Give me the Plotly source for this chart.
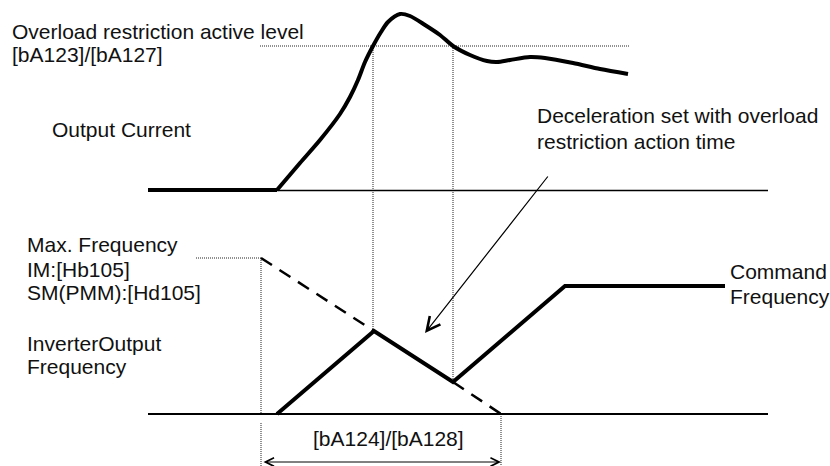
import plotly.graph_objects as go

# ---- diagram data (drawing units = reference pixel grid) ----
axis_x = [148, 768]
current_base = 190.5
freq_base = 414

# output current before acceleration starts (thick) and its waveform
current_idle_x = [148, 277]
current_idle_y = [190, 190]
current_x = [277, 300, 320, 340, 350, 358, 365, 373, 381, 388, 400, 410, 425, 440,
             453, 470, 487, 497, 510, 530, 545, 573, 600, 628]
current_y = [190, 163, 140, 114, 97, 80, 62, 46, 32, 22, 14, 16, 25, 35,
             46, 55, 61, 62, 60, 57, 58, 63, 69, 74]

# overload restriction active level
level_x = [260, 630]
level_y = [46, 46]

# inverter output frequency
freq_x = [277, 374, 453, 565, 725]
freq_y = [414, 331, 382, 286, 286]

# deceleration ramp set by bA124/bA128 (dashed)
decel_x = [261, 374, None, 453, 501]
decel_y = [258, 331, None, 382, 414]

# dotted guide lines
guide_x = [373, 373, None, 453, 453, None, 261, 261, None, 261, 261, None, 501, 501, None, 196, 261]
guide_y = [46, 331, None, 46, 382, None, 258, 414, None, 423, 467, None, 414, 467, None, 258, 258]

# texts: (label, x, y, anchor)
labels = [
    ("Overload restriction active level", 10, 31, "left"),
    ("[bA123]/[bA127]", 10, 54, "left"),
    ("Output Current", 50, 129, "left"),
    ("Deceleration set with overload", 535, 115, "left"),
    ("restriction action time", 535, 141, "left"),
    ("Max. Frequency", 25, 244, "left"),
    ("IM:[Hb105]", 25, 269, "left"),
    ("SM(PMM):[Hd105]", 25, 292, "left"),
    ("InverterOutput", 25, 343, "left"),
    ("Frequency", 25, 366, "left"),
    ("Command", 728, 271, "left"),
    ("Frequency", 728, 296, "left"),
    ("[bA124]/[bA128]", 388, 438, "center"),
]

# arrows: (head_x, head_y, tail_x, tail_y)
pointer_arrow = (425, 333, 549, 175)
span_arrow = (501, 462, 262, 462)

# ---- figure ----
fig = go.Figure()
black = "#000000"

fig.add_trace(go.Scatter(x=level_x, y=level_y, mode="lines",
                         line=dict(color="#222222", width=1, dash="1px,1px")))
fig.add_trace(go.Scatter(x=guide_x, y=guide_y, mode="lines",
                         line=dict(color="#222222", width=1, dash="1px,1px")))
fig.add_trace(go.Scatter(x=axis_x, y=[current_base, current_base], mode="lines",
                         line=dict(color=black, width=1.3)))
fig.add_trace(go.Scatter(x=axis_x, y=[freq_base, freq_base], mode="lines",
                         line=dict(color=black, width=2)))
fig.add_trace(go.Scatter(x=current_idle_x, y=current_idle_y, mode="lines",
                         line=dict(color=black, width=4)))
fig.add_trace(go.Scatter(x=current_x, y=current_y, mode="lines",
                         line=dict(color=black, width=4, shape="spline", smoothing=0.8)))
fig.add_trace(go.Scatter(x=decel_x, y=decel_y, mode="lines",
                         line=dict(color=black, width=2.5, dash="13px,9px")))
fig.add_trace(go.Scatter(x=freq_x, y=freq_y, mode="lines",
                         line=dict(color=black, width=4)))

font = dict(family="Liberation Sans, Arial, sans-serif", size=21, color="#111111")
for text, x, y, anc in labels:
    fig.add_annotation(x=x, y=y, text=text, showarrow=False, xanchor=anc,
                       yanchor="middle", font=font, xref="x", yref="y")

hx, hy, tx, ty = pointer_arrow
fig.add_annotation(x=hx, y=hy, ax=tx, ay=ty, xref="x", yref="y", axref="x", ayref="y",
                   text="", showarrow=True, arrowhead=5, arrowsize=2.2, arrowwidth=1.2,
                   arrowcolor=black, standoff=0)
hx, hy, tx, ty = span_arrow
fig.add_annotation(x=hx, y=hy, ax=tx, ay=ty, xref="x", yref="y", axref="x", ayref="y",
                   text="", showarrow=True, arrowhead=5, startarrowhead=5,
                   arrowside="end+start", arrowsize=1.7, startarrowsize=1.7,
                   arrowwidth=1, arrowcolor=black, standoff=0, startstandoff=0)

fig.update_layout(
    width=830, height=466, autosize=False,
    margin=dict(l=0, r=0, t=0, b=0, pad=0),
    paper_bgcolor="white", plot_bgcolor="white",
    showlegend=False,
    xaxis=dict(range=[0, 830], visible=False, fixedrange=True),
    yaxis=dict(range=[466, 0], visible=False, fixedrange=True),
)

fig.write_html("out.html", config={"displayModeBar": False},
               post_script="document.body.style.margin='0';document.body.style.overflow='hidden';")
